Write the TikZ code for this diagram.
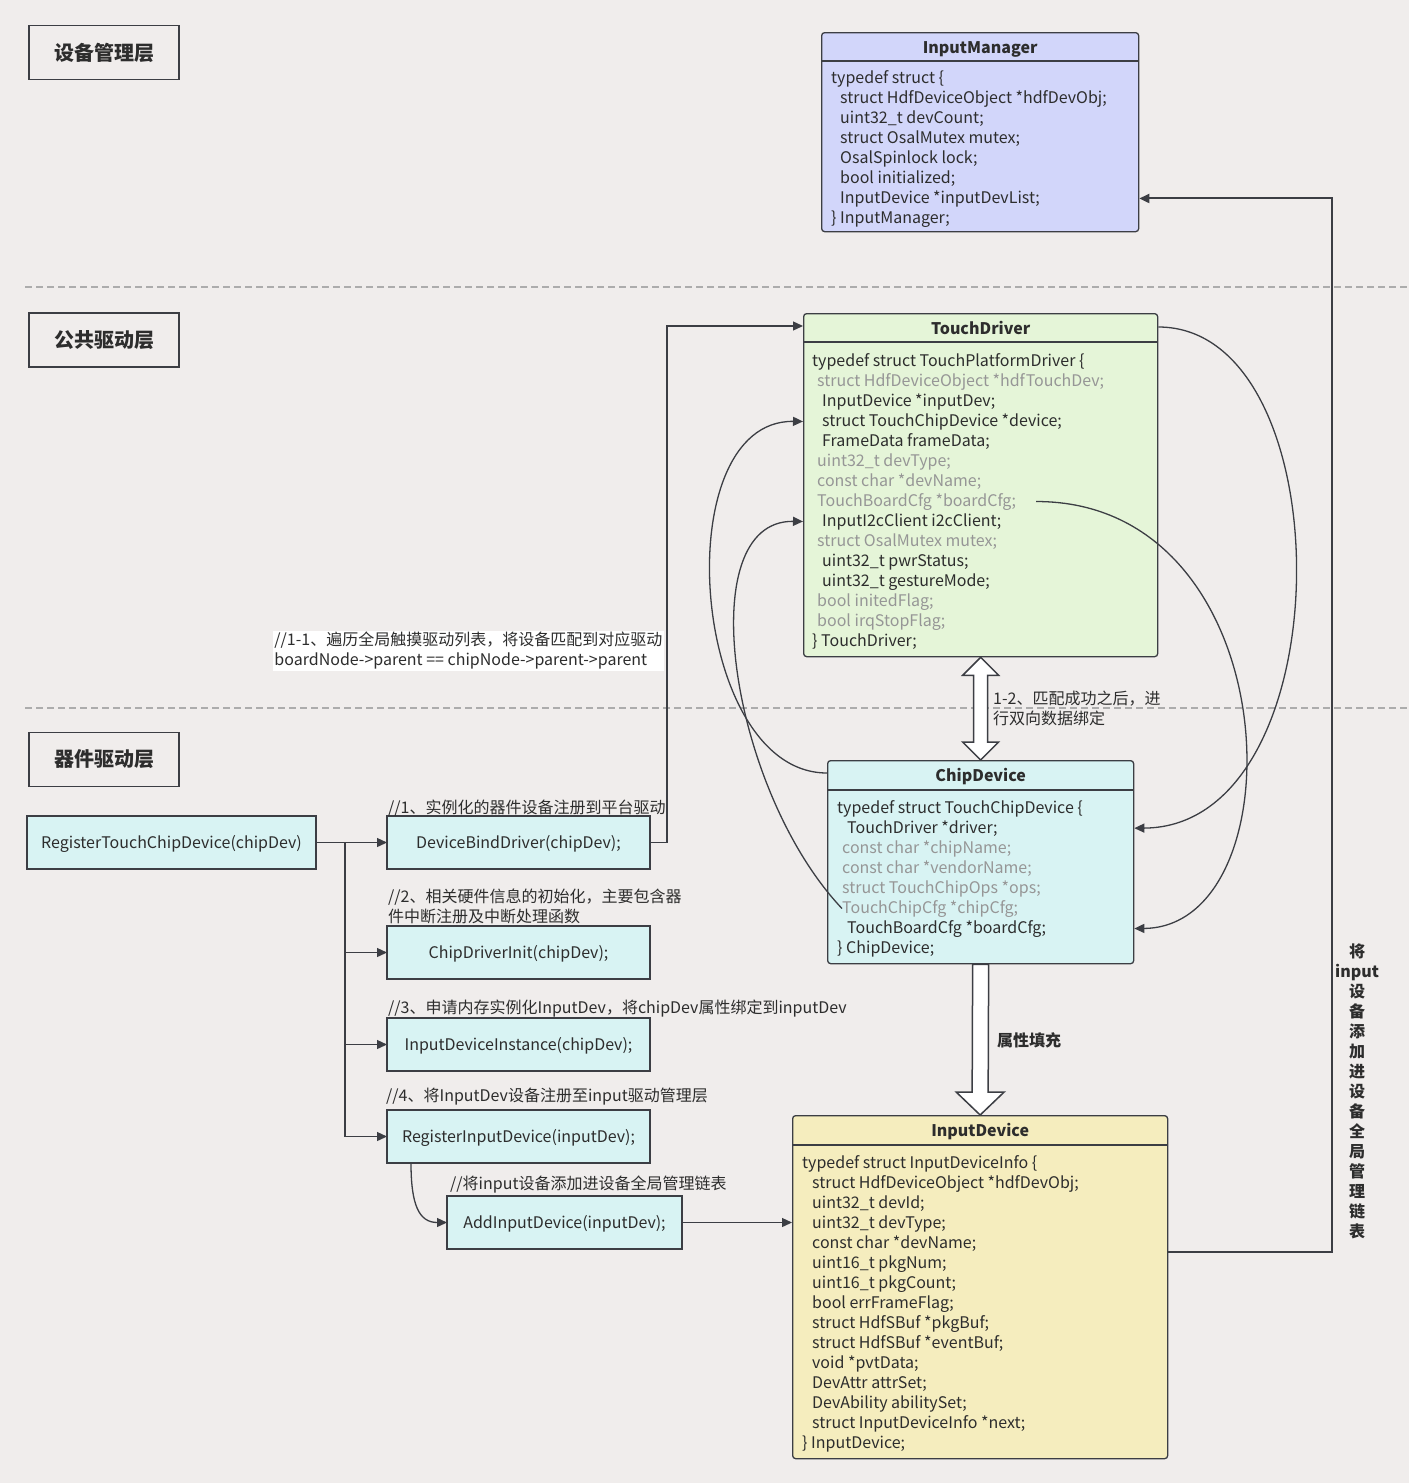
\documentclass[tikz,border=0pt]{standalone}
\usepackage{fontspec}
\setmainfont{Noto Sans CJK SC}
\usetikzlibrary{positioning,arrows.meta,calc}

\definecolor{bgcol}{RGB}{240,237,236}
\definecolor{linecol}{RGB}{60,62,68}
\definecolor{txtcol}{RGB}{45,45,45}
\definecolor{graycol}{RGB}{150,150,150}
\definecolor{sepcol}{RGB}{172,172,172}
\definecolor{mgrfill}{RGB}{210,214,250}
\definecolor{tdfill}{RGB}{229,245,216}
\definecolor{cdfill}{RGB}{216,243,243}
\definecolor{indfill}{RGB}{245,237,190}

\begin{document}
\begin{tikzpicture}[x=1pt, y=-1pt,
    layer/.style={draw=linecol, line width=1.3pt, minimum width=150pt, minimum height=54pt, text=txtcol, font=\fontsize{20}{24}\selectfont\bfseries},
    structbox/.style={draw=linecol, line width=1.3pt, rounded corners=3pt, anchor=north west, inner sep=0pt},
    title/.style={anchor=base, text=txtcol, inner sep=0pt, font=\fontsize{16}{20}\selectfont\bfseries},
    field/.style={anchor=base west, inner sep=0pt, font=\fontsize{16}{20}\selectfont},
    fnbox/.style={draw=linecol, line width=1.3pt, outer sep=0pt, fill=cdfill, minimum height=53pt, text height=13pt, text depth=2pt, text=txtcol, font=\fontsize{16}{20}\selectfont},
    note/.style={anchor=west, align=left, inner sep=0pt, text=txtcol, font=\fontsize{16}{20}\selectfont},
    arrow/.style={-{Triangle[length=10pt, width=9pt]}, line width=1.3pt, draw=linecol},
    blockarrow/.style={draw=linecol, fill=white, line width=1.5pt, line join=miter},
    sepline/.style={draw=sepcol, line width=1.3pt, dash pattern=on 7pt off 4pt}
]
\useasboundingbox (0,0) rectangle (1409,1483);
\fill[bgcol] (0,0) rectangle (1409,1483);

% layers
\draw[sepline] (25,287) -- (1409,287);
\draw[sepline] (25,708) -- (1409,708);
\node[layer] (l-mgr) at (104,52.5) {设备管理层};
\node[layer] (l-drv) at (104,340) {公共驱动层};
\node[layer] (l-chip) at (104,759.5) {器件驱动层};

% InputManager
\node[structbox, fill=mgrfill, minimum width=317pt, minimum height=199pt] (mgr) at (821,32) {};
\node[title] (mgr-t) at ($(mgr.north)+(0,21)$) {InputManager};
\draw[line width=1.3pt, linecol] ($(mgr.north west)+(0,29)$) -- ($(mgr.north east)+(0,29)$);
\foreach \dx/\txt [count=\i] in {0/typedef struct \{, 9/struct HdfDeviceObject *hdfDevObj;,
    9/uint32\_t devCount;, 9/struct OsalMutex mutex;, 9/OsalSpinlock lock;,
    9/bool initialized;, 9/InputDevice *inputDevList;, 0/\} InputManager;}
  \node[field, text=txtcol] (mgr-\i) at ($(mgr.north west)+(10+\dx, 31+20*\i)$) {\txt};

% TouchDriver
\node[structbox, fill=tdfill, minimum width=354pt, minimum height=343pt] (td) at (803,313) {};
\node[title] (td-t) at ($(td.north)+(0,21)$) {TouchDriver};
\draw[line width=1.3pt, linecol] ($(td.north west)+(0,29)$) -- ($(td.north east)+(0,29)$);
\foreach \dx/\col/\txt [count=\i] in {9/txtcol/typedef struct TouchPlatformDriver \{,
    14/graycol/struct HdfDeviceObject *hdfTouchDev;, 19/txtcol/InputDevice *inputDev;,
    19/txtcol/struct TouchChipDevice *device;, 19/txtcol/FrameData frameData;,
    14/graycol/uint32\_t devType;, 14/graycol/const char *devName;,
    14/graycol/TouchBoardCfg *boardCfg;, 19/txtcol/InputI2cClient i2cClient;,
    14/graycol/struct OsalMutex mutex;, 19/txtcol/uint32\_t pwrStatus;,
    19/txtcol/uint32\_t gestureMode;, 14/graycol/bool initedFlag;,
    14/graycol/bool irqStopFlag;, 9/txtcol/\} TouchDriver;}
  \node[field, text=\col] (td-\i) at ($(td.north west)+(\dx, 33+20*\i)$) {\txt};

% ChipDevice
\node[structbox, fill=cdfill, minimum width=306pt, minimum height=203pt] (cd) at (827,760) {};
\node[title] (cd-t) at ($(cd.north)+(0,21)$) {ChipDevice};
\draw[line width=1.3pt, linecol] ($(cd.north west)+(0,30)$) -- ($(cd.north east)+(0,30)$);
\foreach \dx/\col/\txt [count=\i] in {10/txtcol/typedef struct TouchChipDevice \{,
    20/txtcol/TouchDriver *driver;, 15/graycol/const char *chipName;,
    15/graycol/const char *vendorName;, 15/graycol/struct TouchChipOps *ops;,
    15/graycol/TouchChipCfg *chipCfg;, 20/txtcol/TouchBoardCfg *boardCfg;,
    10/txtcol/\} ChipDevice;}
  \node[field, text=\col] (cd-\i) at ($(cd.north west)+(\dx, 33+20*\i)$) {\txt};

% InputDevice
\node[structbox, fill=indfill, minimum width=375pt, minimum height=343pt] (ind) at (792,1115) {};
\node[title] (ind-t) at ($(ind.north)+(0,21)$) {InputDevice};
\draw[line width=1.3pt, linecol] ($(ind.north west)+(0,30)$) -- ($(ind.north east)+(0,30)$);
\foreach \dx/\txt [count=\i] in {10/typedef struct InputDeviceInfo \{,
    20/struct HdfDeviceObject *hdfDevObj;, 20/uint32\_t devId;, 20/uint32\_t devType;,
    20/const char *devName;, 20/uint16\_t pkgNum;, 20/uint16\_t pkgCount;,
    20/bool errFrameFlag;, 20/struct HdfSBuf *pkgBuf;, 20/struct HdfSBuf *eventBuf;,
    20/void *pvtData;, 20/DevAttr attrSet;, 20/DevAbility abilitySet;,
    20/struct InputDeviceInfo *next;, 10/\} InputDevice;}
  \node[field, text=txtcol] (ind-\i) at ($(ind.north west)+(\dx, 33+20*\i)$) {\txt};

% call chain
\node[fnbox, minimum width=263pt] (bind) at (518.5,842.5) {DeviceBindDriver(chipDev);};
\node[fnbox, minimum width=289pt, left=71pt of bind] (reg) {RegisterTouchChipDevice(chipDev)};
\node[fnbox, minimum width=263pt, below=57pt of bind] (init) {ChipDriverInit(chipDev);};
\node[fnbox, minimum width=263pt, below=39pt of init] (inst) {InputDeviceInstance(chipDev);};
\node[fnbox, minimum width=263pt, below=39pt of inst] (reginp) {RegisterInputDevice(inputDev);};
\node[fnbox, minimum width=235pt, anchor=north west] (add) at ($(reginp.south west)+(60,33)$) {AddInputDevice(inputDev);};

\node[note] (n-bind) at ($(bind.north west)+(1,-8)$) {//1、实例化的器件设备注册到平台驱动};
\node[note] (n-init) at ($(init.north west)+(1,-20)$) {//2、相关硬件信息的初始化，主要包含器\\件中断注册及中断处理函数};
\node[note] (n-inst) at ($(inst.north west)+(1,-9)$) {//3、申请内存实例化InputDev，将chipDev属性绑定到inputDev};
\node[note] (n-reginp) at ($(reginp.north west)+(-1,-13)$) {//4、将InputDev设备注册至input驱动管理层};
\node[note] (n-add) at ($(add.north west)+(3,-11)$) {//将input设备添加进设备全局管理链表};
\node[note, anchor=east, fill=white, inner sep=1.5pt] (n-match) at (664,651) {//1-1、遍历全局触摸驱动列表，将设备匹配到对应驱动\\boardNode->parent == chipNode->parent->parent};

\draw[arrow] (reg.east) -- (bind.west);
\coordinate (bus) at ($(reg.east)+(29,0)$);
\foreach \n in {init,inst,reginp}
  \draw[arrow] (bus) |- (\n.west);
\draw[arrow] (bind.east) -- ++(17,0) |- ($(td.north west)+(0,13)$);
\draw[arrow] ($(reginp.south west)+(24,0)$) .. controls +(0,42) and +(-28,0) .. (add.west);
\draw[arrow] (add.east) -- (add.east -| ind.west);
\draw[arrow, line width=2pt] ($(ind.north east)+(0,137)$) -- ++(164,0) |- (mgr.east |- mgr-7);
\node[title, anchor=center, align=center] (n-list) at (1357,1091)
  {将\\input\\设\\备\\添\\加\\进\\设\\备\\全\\局\\管\\理\\链\\表};

% binding between driver and chip
\draw[arrow] ($(td.north east)+(0,14)$) .. controls (1345,327) and (1345,827) .. (cd.east |- cd-2);
\draw[arrow] ($(td-8.east)+(20,0)$) .. controls (1290,501) and (1300,927) .. (cd.east |- cd-7);
\draw[arrow] ($(cd.north west)+(0,13)$) .. controls (690,773) and (665,420) .. (td.west |- td-4);
\draw[arrow] (cd-6.west) .. controls (730,790) and (690,520) .. (td.west |- td-9);

\draw[blockarrow] (td.south) -- ++(18,18) -- ++(-11,0) -- ($(cd.north)+(7,-18)$) -- ++(11,0)
  -- (cd.north) -- ++(-18,-18) -- ++(11,0) -- ($(td.south)+(-7,18)$) -- ++(-11,0) -- cycle;
\node[note] (n-bind2) at (993,708) {1-2、匹配成功之后，进\\行双向数据绑定};

\draw[blockarrow] ($(cd.south)+(-8,0)$) -- ($(ind.north)+(-8,-23)$) -- ++(-16,0) -- (ind.north)
  -- ++(24,-23) -- ++(-16,0) -- ($(cd.south)+(8,0)$) -- cycle;
\node[note, font=\fontsize{16}{20}\selectfont\bfseries] (n-fill) at (997,1040) {属性填充};

\end{tikzpicture}
\end{document}
